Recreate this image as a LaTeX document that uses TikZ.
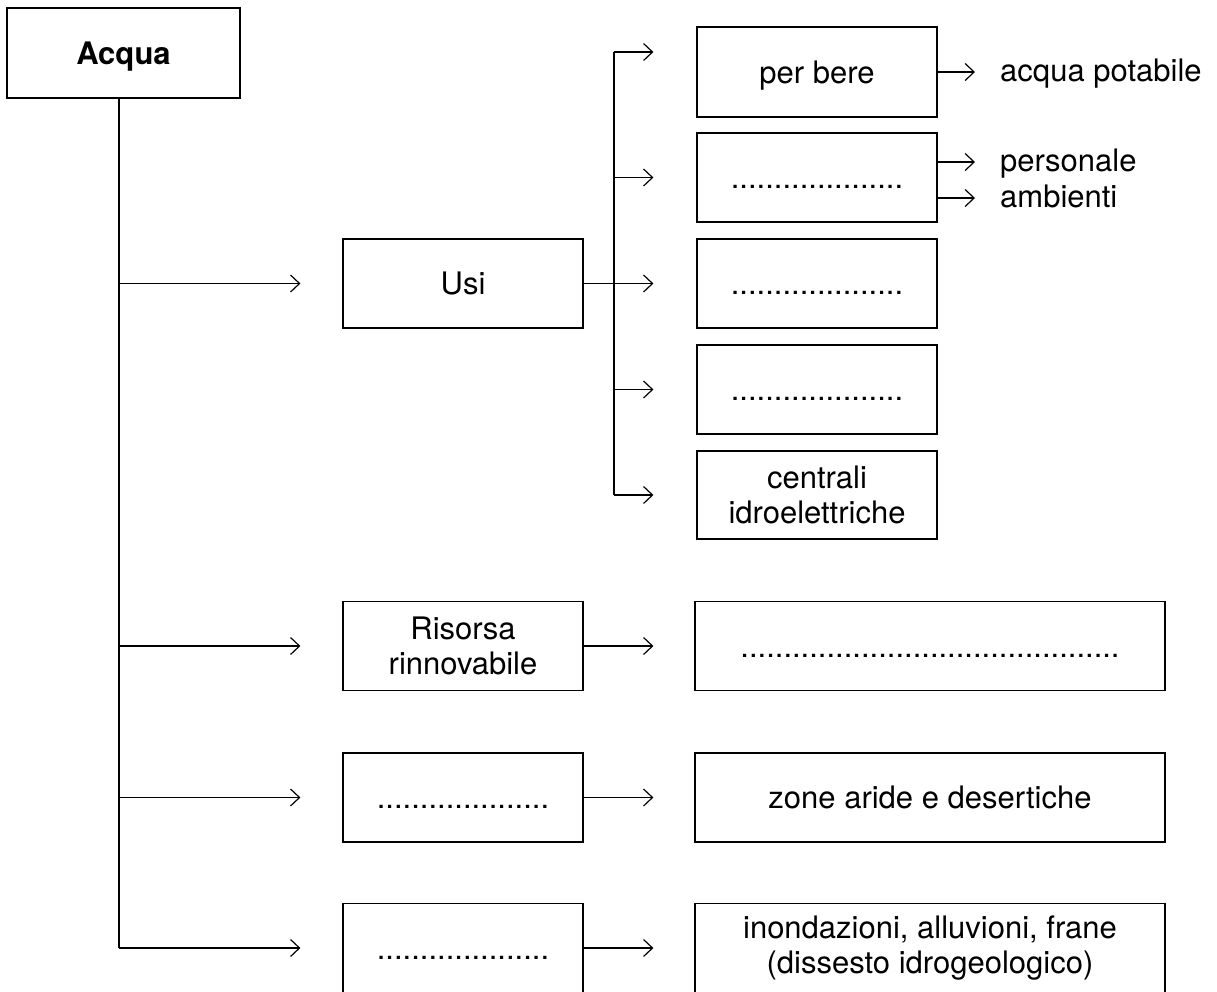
\documentclass[tikz,border=0pt]{standalone}
\usepackage{fontspec}
\setmainfont{TeX Gyre Heros}
\usetikzlibrary{arrows.meta}
\tikzset{
  box/.style={draw, line width=1.2pt, rectangle, inner sep=0pt, align=center,
    font=\fontsize{31}{35}\selectfont},
  one/.style={text height=24pt, text depth=2pt},
  lbl/.style={inner sep=0pt, anchor=west, text height=20pt, text depth=2pt,
    font=\fontsize{31}{35}\selectfont},
  ln/.style={line width=1.2pt},
  arr/.style={line width=1.2pt, -{Straight Barb[length=9pt,width=17pt]}},
  smallbox/.style={box, minimum width=240pt, minimum height=89pt},
  widebox/.style={box, minimum width=470pt, minimum height=89pt}
}
\begin{document}
\begin{tikzpicture}[x=1pt,y=-1pt]
\useasboundingbox (0,0) rectangle (1217,991);
% main node
\node[box, one, minimum width=233pt, minimum height=90pt] (acqua) at (123.5,53) {\bfseries Acqua};
% middle column
\node[smallbox, one] (usi) at (463,283.5) {Usi};
\node[smallbox] (ris) at (463,646) {Risorsa\\rinnovabile};
\node[smallbox, one] (b3) at (463,797.5) {....................};
\node[smallbox, one] (b4) at (463,948) {....................};
% uses column
\node[smallbox, one, minimum height=90pt] (per) at (817,72) {per bere};
\node[smallbox, one] (s2) at (817,177.5) {....................};
\node[smallbox, one] (s3) at (817,283.5) {....................};
\node[smallbox, one] (s4) at (817,389.5) {....................};
\node[smallbox, minimum height=88pt] (cen) at (817,495) {centrali\\idroelettriche};
% right column
\node[widebox, one] (r1) at (930,646) {............................................};
\node[widebox, one] (r2) at (930,797.5) {zone aride e desertiche};
\node[widebox] (r3) at (930,948) {inondazioni, alluvioni, frane\\(dissesto idrogeologico)};
% labels
\node[lbl] (ap) at (1000,72) {acqua potabile};
\node[lbl] (pers) at (1000,162) {personale};
\node[lbl] (amb) at (1000,198) {ambienti};
% trunk
\coordinate (trunk) at (119,0);
\draw[ln] (acqua.south -| trunk) -- (trunk |- b4.west);
\foreach \n in {usi,ris,b3,b4}{
  \draw[arr] (trunk |- \n.west) -- ([xshift=-42pt]\n.west);
}
% sub branch of Usi
\coordinate (sub) at (614,0);
\draw[ln] ([yshift=20pt]per.west -| sub) -- (cen.west -| sub);
\draw[arr] ([yshift=20pt]per.west -| sub) -- ([xshift=-43pt,yshift=20pt]per.west);
\draw[arr] (usi.east) -- ([xshift=-43pt]s3.west);
\foreach \n in {s2,s4,cen}{
  \draw[arr] (sub |- \n.west) -- ([xshift=-43pt]\n.west);
}
% right arrows
\draw[arr, shorten >=25pt] (per.east) -- (ap.west);
\draw[arr, shorten >=25pt] (s2.east |- pers.west) -- (pers.west);
\draw[arr, shorten >=25pt] (s2.east |- amb.west) -- (amb.west);
\foreach \a/\b in {ris/r1,b3/r2,b4/r3}{
  \draw[arr] (\a.east) -- ([xshift=-41pt]\b.west);
}
\end{tikzpicture}
\end{document}
